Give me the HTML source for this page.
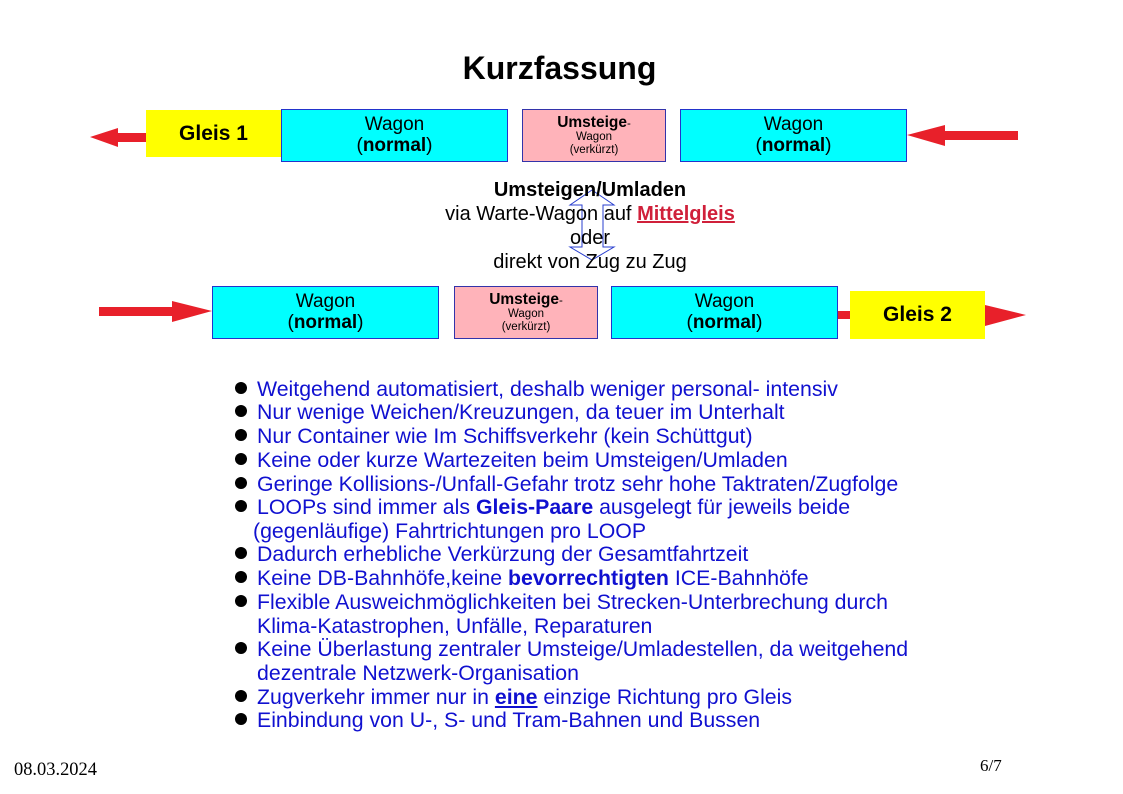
<!DOCTYPE html>
<html><head><meta charset="utf-8"><style>
body{margin:0;width:1123px;height:794px;background:#fff;position:relative;overflow:hidden;font-family:"Liberation Sans",sans-serif}
.a{position:absolute}
.box{position:absolute;box-sizing:border-box;text-align:center;color:#000}
.cy{background:#00ffff;border:1px solid #2233cc;font-size:19px;line-height:21px;padding-top:4px}
.pk{background:#ffb3ba;border:1px solid #3333aa;font-size:11.5px;line-height:13px;padding-top:4px}
.pk b{font-size:15.5px;line-height:17px}
.ye{background:#ffff00;font-weight:bold;font-size:21px}
.li{position:absolute;left:257px;font-size:21.3px;color:#1010d0;white-space:nowrap}
.dot{position:absolute;left:235px;width:12px;height:12px;border-radius:50%;background:#000}
.c{position:absolute;left:340px;width:500px;text-align:center;font-size:20px;color:#000}
</style></head><body>
<div class="a" style="left:0;width:1123px;top:50px;text-align:center;font-weight:bold;font-size:32px"><span style="position:relative;left:-2px">Kurzfassung</span></div>

<svg class="a" style="left:0;top:0" width="1123" height="794">
<polygon points="90,137 118,128 118,133 146,133 146,142 118,142 118,147" fill="#e8202a"/>
<polygon points="907,135 945,125 945,131 1018,131 1018,140 945,140 945,146" fill="#e8202a"/>
<polygon points="212,311 172,301 172,307 99,307 99,316 172,316 172,322" fill="#e8202a"/>
<rect x="838" y="311" width="14" height="8" fill="#e8202a"/>
<polygon points="1026,315 985,305 985,326" fill="#e8202a"/>
<polygon points="592,190 614,205 603,205 603,247 614,247 592,260 570,247 582,247 582,205 570,205" fill="none" stroke="#2a3fcf" stroke-width="1"/>
</svg>

<div class="box ye" style="left:146px;top:110px;width:135px;height:47px;line-height:47px">Gleis 1</div>
<div class="box cy" style="left:281px;top:109px;width:227px;height:53px">Wagon<br>(<b>normal</b>)</div>
<div class="box pk" style="left:522px;top:109px;width:144px;height:53px"><b>Umsteige</b>-<br>Wagon<br>(verkürzt)</div>
<div class="box cy" style="left:680px;top:109px;width:227px;height:53px">Wagon<br>(<b>normal</b>)</div>

<div class="box cy" style="left:212px;top:286px;width:227px;height:53px">Wagon<br>(<b>normal</b>)</div>
<div class="box pk" style="left:454px;top:286px;width:144px;height:53px"><b>Umsteige</b>-<br>Wagon<br>(verkürzt)</div>
<div class="box cy" style="left:611px;top:286px;width:227px;height:53px">Wagon<br>(<b>normal</b>)</div>
<div class="box ye" style="left:850px;top:291px;width:135px;height:48px;line-height:48px">Gleis 2</div>

<div class="c" style="top:179px;font-weight:bold">Umsteigen/Umladen</div>
<div class="c" style="top:203px">via Warte-Wagon auf <b style="color:#d0203a;text-decoration:underline">Mittelgleis</b></div>
<div class="c" style="top:227px">oder</div>
<div class="c" style="top:251px">direkt von Zug zu Zug</div>

<div class="dot" style="top:382px"></div><div class="li" style="top:377px">Weitgehend automatisiert, deshalb weniger personal- intensiv</div>
<div class="dot" style="top:405px"></div><div class="li" style="top:400px">Nur wenige Weichen/Kreuzungen, da teuer im Unterhalt</div>
<div class="dot" style="top:429px"></div><div class="li" style="top:424px">Nur Container wie Im Schiffsverkehr (kein Schüttgut)</div>
<div class="dot" style="top:453px"></div><div class="li" style="top:448px">Keine oder kurze Wartezeiten beim Umsteigen/Umladen</div>
<div class="dot" style="top:477px"></div><div class="li" style="top:472px">Geringe Kollisions-/Unfall-Gefahr trotz sehr hohe Taktraten/Zugfolge</div>
<div class="dot" style="top:500px"></div><div class="li" style="top:495px">LOOPs sind immer als <b>Gleis-Paare</b> ausgelegt für jeweils beide</div>
<div class="li" style="top:519px;left:253px">(gegenläufige) Fahrtrichtungen pro LOOP</div>
<div class="dot" style="top:547px"></div><div class="li" style="top:542px">Dadurch erhebliche Verkürzung der Gesamtfahrtzeit</div>
<div class="dot" style="top:571px"></div><div class="li" style="top:566px">Keine DB-Bahnhöfe,keine <b>bevorrechtigten</b> ICE-Bahnhöfe</div>
<div class="dot" style="top:595px"></div><div class="li" style="top:590px">Flexible Ausweichmöglichkeiten bei Strecken-Unterbrechung durch</div>
<div class="li" style="top:614px">Klima-Katastrophen, Unfälle, Reparaturen</div>
<div class="dot" style="top:642px"></div><div class="li" style="top:637px">Keine Überlastung zentraler Umsteige/Umladestellen, da weitgehend</div>
<div class="li" style="top:661px">dezentrale Netzwerk-Organisation</div>
<div class="dot" style="top:690px"></div><div class="li" style="top:685px">Zugverkehr immer nur in <b style="text-decoration:underline">eine</b> einzige Richtung pro Gleis</div>
<div class="dot" style="top:713px"></div><div class="li" style="top:708px">Einbindung von U-, S- und Tram-Bahnen und Bussen</div>

<div class="a" style="left:14px;top:759px;font-family:'Liberation Serif',serif;font-size:19px;transform:scaleX(0.97);transform-origin:left">08.03.2024</div>
<div class="a" style="left:980px;top:756px;font-family:'Liberation Serif',serif;font-size:17px">6/7</div>
</body></html>
